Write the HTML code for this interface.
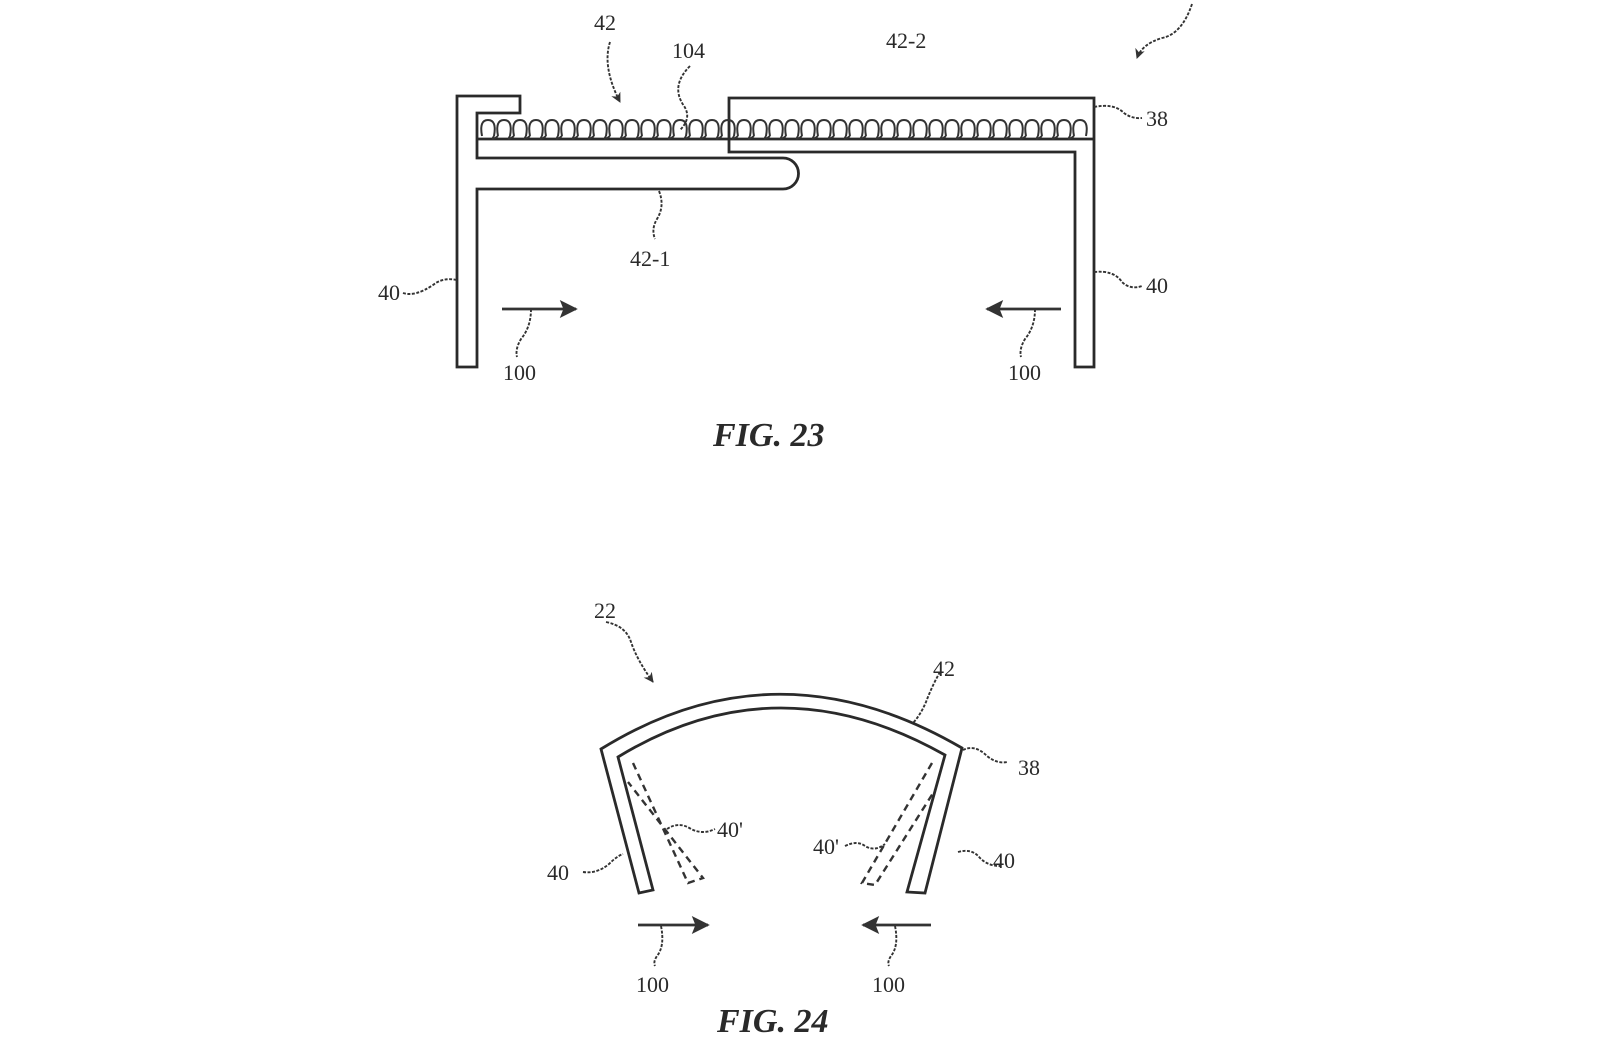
<!DOCTYPE html>
<html><head><meta charset="utf-8"><style>
html,body{margin:0;padding:0;background:#fff;}
svg{display:block}
text{font-family:"Liberation Serif",serif;fill:#2a2a2a;}
</style></head><body>
<svg width="1600" height="1046" viewBox="0 0 1600 1046" xmlns="http://www.w3.org/2000/svg">
<defs>
<marker id="ah" viewBox="0 0 10 10" refX="9" refY="5" markerWidth="10" markerHeight="10" orient="auto-start-reverse" markerUnits="userSpaceOnUse"><path d="M0,0 L10,5 L0,10 L3,5 z" fill="#333"/></marker>
<marker id="ah2" viewBox="0 0 10 10" refX="9" refY="5" markerWidth="24" markerHeight="18" orient="auto" markerUnits="userSpaceOnUse"><path d="M0,0 L10,5 L0,10 L2,5 z" fill="#333"/></marker>
</defs>
<g fill="none" stroke="#2a2a2a" stroke-width="2.8">
<path d="M457,367 L457,96 L520,96 L520,113 L477,113 L477,158 L783,158 A15.5,15.5 0 0 1 783,189 L477,189 L477,367 Z"/>
<line x1="477" y1="139" x2="1094" y2="139"/>
<path d="M729,98 L1094,98 L1094,367 L1075,367 L1075,152 L729,152 Z"/>
</g>
<g fill="none" stroke="#333" stroke-width="2">
<path d="
M482,136 q-3,-16 6,-16 q9,0 6,16
M498,136 q-3,-16 6,-16 q9,0 6,16
M514,136 q-3,-16 6,-16 q9,0 6,16
M530,136 q-3,-16 6,-16 q9,0 6,16
M546,136 q-3,-16 6,-16 q9,0 6,16
M562,136 q-3,-16 6,-16 q9,0 6,16
M578,136 q-3,-16 6,-16 q9,0 6,16
M594,136 q-3,-16 6,-16 q9,0 6,16
M610,136 q-3,-16 6,-16 q9,0 6,16
M626,136 q-3,-16 6,-16 q9,0 6,16
M642,136 q-3,-16 6,-16 q9,0 6,16
M658,136 q-3,-16 6,-16 q9,0 6,16
M674,136 q-3,-16 6,-16 q9,0 6,16
M690,136 q-3,-16 6,-16 q9,0 6,16
M706,136 q-3,-16 6,-16 q9,0 6,16
M722,136 q-3,-16 6,-16 q9,0 6,16
M738,136 q-3,-16 6,-16 q9,0 6,16
M754,136 q-3,-16 6,-16 q9,0 6,16
M770,136 q-3,-16 6,-16 q9,0 6,16
M786,136 q-3,-16 6,-16 q9,0 6,16
M802,136 q-3,-16 6,-16 q9,0 6,16
M818,136 q-3,-16 6,-16 q9,0 6,16
M834,136 q-3,-16 6,-16 q9,0 6,16
M850,136 q-3,-16 6,-16 q9,0 6,16
M866,136 q-3,-16 6,-16 q9,0 6,16
M882,136 q-3,-16 6,-16 q9,0 6,16
M898,136 q-3,-16 6,-16 q9,0 6,16
M914,136 q-3,-16 6,-16 q9,0 6,16
M930,136 q-3,-16 6,-16 q9,0 6,16
M946,136 q-3,-16 6,-16 q9,0 6,16
M962,136 q-3,-16 6,-16 q9,0 6,16
M978,136 q-3,-16 6,-16 q9,0 6,16
M994,136 q-3,-16 6,-16 q9,0 6,16
M1010,136 q-3,-16 6,-16 q9,0 6,16
M1026,136 q-3,-16 6,-16 q9,0 6,16
M1042,136 q-3,-16 6,-16 q9,0 6,16
M1058,136 q-3,-16 6,-16 q9,0 6,16
M1074,136 q-3,-16 6,-16 q9,0 6,16
"/>
<path d="M494,136 q-4,6 4,0 M510,136 q-4,6 4,0 M526,136 q-4,6 4,0 M542,136 q-4,6 4,0 M558,136 q-4,6 4,0 M574,136 q-4,6 4,0 M590,136 q-4,6 4,0 M606,136 q-4,6 4,0 M622,136 q-4,6 4,0 M638,136 q-4,6 4,0 M654,136 q-4,6 4,0 M670,136 q-4,6 4,0 M686,136 q-4,6 4,0 M702,136 q-4,6 4,0 M718,136 q-4,6 4,0 M734,136 q-4,6 4,0 M750,136 q-4,6 4,0 M766,136 q-4,6 4,0 M782,136 q-4,6 4,0 M798,136 q-4,6 4,0 M814,136 q-4,6 4,0 M830,136 q-4,6 4,0 M846,136 q-4,6 4,0 M862,136 q-4,6 4,0 M878,136 q-4,6 4,0 M894,136 q-4,6 4,0 M910,136 q-4,6 4,0 M926,136 q-4,6 4,0 M942,136 q-4,6 4,0 M958,136 q-4,6 4,0 M974,136 q-4,6 4,0 M990,136 q-4,6 4,0 M1006,136 q-4,6 4,0 M1022,136 q-4,6 4,0 M1038,136 q-4,6 4,0 M1054,136 q-4,6 4,0 M1070,136 q-4,6 4,0"/>
</g>
<g fill="none" stroke="#333" stroke-width="1.9" stroke-dasharray="3,1.5">
<path d="M610,42 q-8,25 10,60" marker-end="url(#ah)"/>
<path d="M690,66 q-20,20 -6,40 q8,12 -4,24"/>
<path d="M1192,4 q-10,30 -30,34 q-20,6 -25,20" marker-end="url(#ah)"/>
<path d="M659,191 q6,15 -2,28 q-6,10 -2,20"/>
<path d="M403,293 q12,4 30,-8 q10,-8 24,-5"/>
<path d="M1094,272 q20,-2 28,10 q8,8 20,4"/>
<path d="M1094,107 q20,-4 30,6 q8,6 18,5"/>
<path d="M531,309 q0,18 -10,30 q-6,10 -4,18"/>
<path d="M1035,309 q0,18 -10,30 q-6,10 -4,18"/>
</g>
<g stroke="#333" stroke-width="2.8" fill="none">
<line x1="502" y1="309" x2="576" y2="309" marker-end="url(#ah2)"/>
<line x1="1061" y1="309" x2="987" y2="309" marker-end="url(#ah2)"/>
</g>
<g font-size="22">
<text x="594" y="30">42</text>
<text x="672" y="58">104</text>
<text x="886" y="48">42-2</text>
<text x="1146" y="126">38</text>
<text x="1146" y="293">40</text>
<text x="378" y="300">40</text>
<text x="630" y="266">42-1</text>
<text x="503" y="380">100</text>
<text x="1008" y="380">100</text>
</g>
<text x="713" y="446" font-size="34" font-style="italic" font-weight="bold">FIG. 23</text>

<g fill="none" stroke="#2a2a2a" stroke-width="2.8">
<path d="M639,893 L601,749 Q777,640 962,748 L925,893 L907,892 L945,755 Q777,660 618,757 L653,890 Z"/>
</g>
<g fill="none" stroke="#333" stroke-width="2.4" stroke-dasharray="7,5">
<path d="M633,763 L688,883 L703,878 L628,782"/>
<path d="M932,763 L862,883 L875,885 L935,790"/>
</g>
<g fill="none" stroke="#333" stroke-width="1.9" stroke-dasharray="3,1.5">
<path d="M606,622 q20,4 25,20 q6,18 22,40" marker-end="url(#ah)"/>
<path d="M940,672 q-8,14 -14,30 q-6,14 -14,22"/>
<path d="M963,750 q12,-6 24,6 q10,8 20,6"/>
<path d="M667,829 q12,-8 24,0 q12,6 24,0"/>
<path d="M845,846 q12,-6 20,0 q10,6 20,-2"/>
<path d="M583,872 q14,2 26,-8 q8,-8 14,-10"/>
<path d="M958,852 q14,-4 22,6 q8,8 20,8"/>
<path d="M661,926 q4,20 -4,30 q-4,6 -2,10"/>
<path d="M895,926 q4,20 -4,30 q-4,6 -2,10"/>
</g>
<g stroke="#333" stroke-width="2.8" fill="none">
<line x1="638" y1="925" x2="708" y2="925" marker-end="url(#ah2)"/>
<line x1="931" y1="925" x2="863" y2="925" marker-end="url(#ah2)"/>
</g>
<g font-size="22">
<text x="594" y="618">22</text>
<text x="933" y="676">42</text>
<text x="1018" y="775">38</text>
<text x="717" y="837">40'</text>
<text x="813" y="854">40'</text>
<text x="547" y="880">40</text>
<text x="993" y="868">40</text>
<text x="636" y="992">100</text>
<text x="872" y="992">100</text>
</g>
<text x="717" y="1032" font-size="34" font-style="italic" font-weight="bold">FIG. 24</text>
</svg>
</body></html>
